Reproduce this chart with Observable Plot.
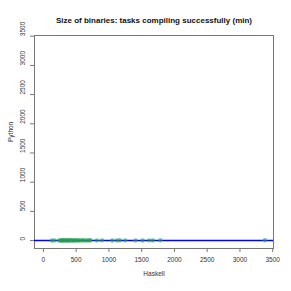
<!DOCTYPE html>
<html><head><meta charset="utf-8">
<script src="https://cdn.jsdelivr.net/npm/d3@7"></script>
<script src="https://cdn.jsdelivr.net/npm/@observablehq/plot@0.6"></script>
<style>body{margin:0;background:#fff}</style>
</head><body><div id="chart"></div>
<script>
const haskell = [130, 170, 240, 260, 275, 290, 300, 315, 330, 345, 360, 375, 390, 405, 420, 440, 455, 470, 490, 510, 530, 550, 575, 600, 620, 650, 680, 700, 720, 815, 895, 1050, 1120, 1165, 1250, 1405, 1515, 1615, 1670, 1785, 3380];
const python  = [2, 3, 2, 4, 3, 2, 5, 3, 4, 2, 6, 3, 2, 4, 5, 3, 2, 4, 3, 6, 2, 3, 4, 5, 3, 2, 4, 3, 5, 3, 4, 2, 3, 5, 4, 3, 2, 4, 3, 5, 6];
const ticks = [0, 500, 1000, 1500, 2000, 2500, 3000, 3500];
const domain = [-136, 3512];
const title = "Size of binaries: tasks compiling successfully (min)";
const xLabel = "Haskell", yLabel = "Python";
const data = haskell.map((h, i) => ({h, p: python[i]}));

const ink = "#333", frameCol = "#777";
const chart = Plot.plot({
  width: 291, height: 291,
  marginLeft: 34, marginRight: 18, marginTop: 35, marginBottom: 43,
  style: {fontFamily: "'Liberation Sans', Arial, sans-serif", background: "#fff"},
  x: {domain, ticks, label: null},
  y: {domain, ticks, label: null},
  marks: [
    Plot.frame({stroke: frameCol}),
    Plot.ruleY([0], {stroke: "#0000ff", strokeWidth: 1.6}),
    Plot.dot(data, {x: "h", y: "p", r: 2.2, fill: "#22a050", fillOpacity: 0.6, stroke: "none"}),
    Plot.axisX({ticks, tickSize: 4, stroke: frameCol, tickFormat: d => String(d), fontSize: 6.5, fill: ink, tickPadding: 5, label: null}),
    Plot.axisY({ticks, tickSize: 4, stroke: frameCol, text: null, label: null}),
    Plot.text(ticks, {y: d => d, text: d => String(d), frameAnchor: "left", dx: -12, rotate: -90, fontSize: 6.5, fill: ink}),
    Plot.text([title], {frameAnchor: "top", dy: -18, fontSize: 8, fontWeight: "bold", fill: "#111"}),
    Plot.text([xLabel], {frameAnchor: "bottom", dy: 27, fontSize: 6.5, fill: ink}),
    Plot.text([yLabel], {frameAnchor: "left", dx: -24, rotate: -90, fontSize: 6.5, fill: ink})
  ]
});
document.getElementById("chart").appendChild(chart);
</script></body></html>
